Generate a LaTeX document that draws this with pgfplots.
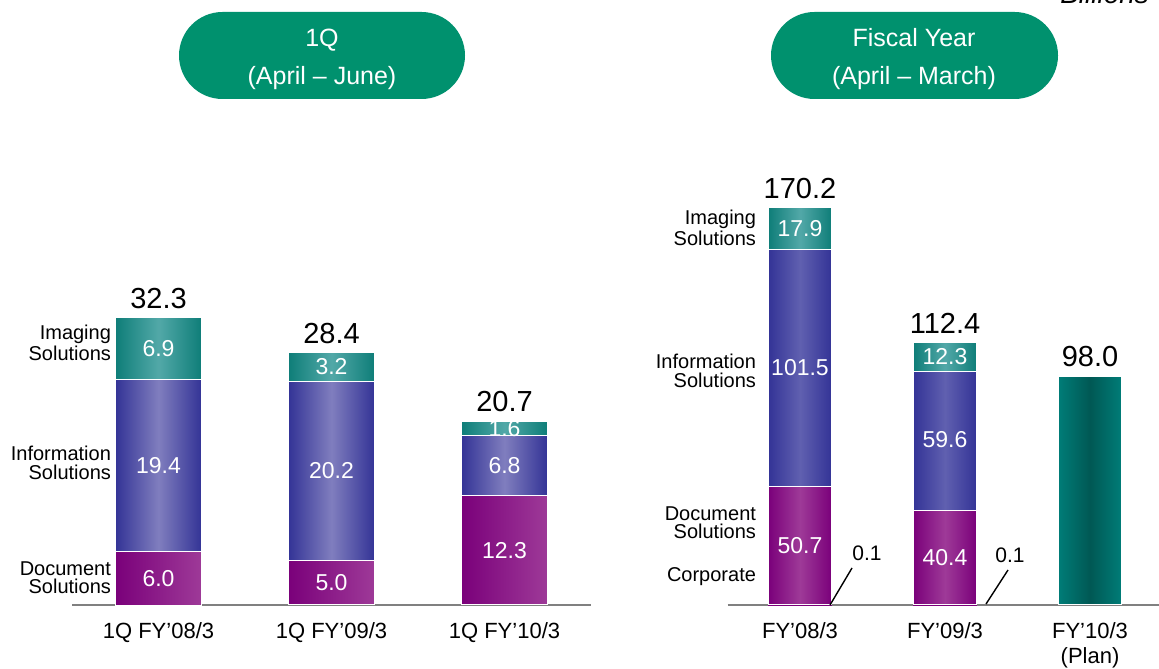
\documentclass[border=0pt]{standalone}
\usepackage{pgfplots}
\pgfplotsset{compat=1.18}
\usepackage{fontspec}
\setmainfont{Liberation Sans}

\definecolor{docdark}{RGB}{122,0,122}
\definecolor{doclight}{RGB}{158,58,152}
\definecolor{infoedge}{RGB}{51,51,150}
\definecolor{infomidq}{RGB}{128,126,190}
\definecolor{infomidy}{RGB}{96,96,176}
\definecolor{imgedge}{RGB}{14,125,120}
\definecolor{imgmid}{RGB}{82,168,168}
\definecolor{planedge}{RGB}{0,125,120}
\definecolor{planmid}{RGB}{0,88,84}
\definecolor{pill}{RGB}{0,145,110}

\tikzset{
  seg/.style={draw=white, line width=0.5pt},
  val/.style={white, font=\fontsize{11.5}{13}\selectfont},
  tot/.style={anchor=south, yshift=1pt, font=\fontsize{14.5}{16}\selectfont},
  % middle color has to come after left/right color
  tri/.style n args={2}{left color=#1, right color=#1, middle color=#2},
}
\pgfplotsset{
  panel/.style={
    scale only axis,
    anchor=south west,
    ymin=0,
    xmin=-0.5, xmax=2.5,
    axis x line=bottom,
    axis y line=none,
    axis line style={draw=black!50, line width=1.1pt, -},
    xtick={0,1,2},
    major tick length=0pt,
    xticklabel style={font=\fontsize{11}{12.5}\selectfont, align=center, yshift=-5pt},
    clip=false,
    ybar stacked,
  },
  % one axis per bar so that each bar gets its own shading
  qpanel/.style={panel, at={(36pt,31.5pt)}, width=259.5pt, height=150pt,
    ymax=33.76, bar width=0.5},
  ypanel/.style={panel, at={(363.75pt,31.5pt)}, width=217.5pt, height=210pt,
    ymax=180, bar width=0.44},
  over/.style={hide axis},
}

\begin{document}
\begin{tikzpicture}[x=0.5pt,y=0.5pt]
\clip (0,0) rectangle (1159,668);

% header pills
\fill[pill, rounded corners=21.75pt] (179,569) rectangle (465,656);
\fill[pill, rounded corners=21.75pt] (771,569) rectangle (1058,656);
\node[white, font=\fontsize{12.5}{14}\selectfont] at (322,628) {1Q};
\node[white, font=\fontsize{12.5}{14}\selectfont] at (322,590) {(April – June)};
\node[white, font=\fontsize{12.5}{14}\selectfont] at (914,630) {Fiscal Year};
\node[white, font=\fontsize{12.5}{14}\selectfont] at (914,590) {(April – March)};
\node[anchor=base east, font=\fontsize{14}{16}\selectfont\itshape] at (1156,664) {Billions};

% ---- 1Q panel ----
\begin{axis}[qpanel, xticklabels={1Q FY’08/3, 1Q FY’09/3, 1Q FY’10/3}]
\addplot[seg, left color=docdark, right color=doclight] coordinates {(0,6.0)};
\addplot[seg, tri={infoedge}{infomidq}] coordinates {(0,19.4)};
\addplot[seg, tri={imgedge}{imgmid}] coordinates {(0,6.9)};
\coordinate (a1) at (axis cs:0,3.0);
\coordinate (a2) at (axis cs:0,15.7);
\coordinate (a3) at (axis cs:0,28.85);
\coordinate (at) at (axis cs:0,32.3);
\end{axis}
\begin{axis}[qpanel, over]
\addplot[seg, left color=docdark, right color=doclight] coordinates {(1,5.0)};
\addplot[seg, tri={infoedge}{infomidq}] coordinates {(1,20.2)};
\addplot[seg, tri={imgedge}{imgmid}] coordinates {(1,3.2)};
\coordinate (b1) at (axis cs:1,2.5);
\coordinate (b2) at (axis cs:1,15.1);
\coordinate (b3) at (axis cs:1,26.8);
\coordinate (bt) at (axis cs:1,28.4);
\end{axis}
\begin{axis}[qpanel, over]
\addplot[seg, left color=docdark, right color=doclight] coordinates {(2,12.3)};
\addplot[seg, tri={infoedge}{infomidq}] coordinates {(2,6.8)};
\addplot[seg, tri={imgedge}{imgmid}] coordinates {(2,1.6)};
\coordinate (c1) at (axis cs:2,6.15);
\coordinate (c2) at (axis cs:2,15.7);
\coordinate (c3) at (axis cs:2,19.9);
\coordinate (ct) at (axis cs:2,20.7);
\end{axis}

% ---- Fiscal year panel ----
\begin{axis}[ypanel, xticklabels={FY’08/3, FY’09/3, {FY’10/3\\(Plan)}}]
\addplot[fill=docdark, draw=none] coordinates {(0,0.1)};
\addplot[seg, tri={docdark}{doclight}] coordinates {(0,50.7)};
\addplot[seg, tri={infoedge}{infomidy}] coordinates {(0,101.5)};
\addplot[seg, tri={imgedge}{imgmid}] coordinates {(0,17.9)};
\coordinate (d1) at (axis cs:0,25.45);
\coordinate (d2) at (axis cs:0,101.55);
\coordinate (d3) at (axis cs:0,161.25);
\coordinate (dt) at (axis cs:0,170.2);
\end{axis}
\begin{axis}[ypanel, over]
\addplot[fill=docdark, draw=none] coordinates {(1,0.1)};
\addplot[seg, tri={docdark}{doclight}] coordinates {(1,40.4)};
\addplot[seg, tri={infoedge}{infomidy}] coordinates {(1,59.6)};
\addplot[seg, tri={imgedge}{imgmid}] coordinates {(1,12.3)};
\coordinate (e1) at (axis cs:1,20.3);
\coordinate (e2) at (axis cs:1,70.8);
\coordinate (e3) at (axis cs:1,106.25);
\coordinate (et) at (axis cs:1,112.4);
\end{axis}
\begin{axis}[ypanel, over]
\addplot[seg, tri={planedge}{planmid}] coordinates {(2,98.0)};
\coordinate (ft) at (axis cs:2,98.0);
\end{axis}

% values inside the bars
\node[val] at (a1) {6.0};   \node[val] at (a2) {19.4};  \node[val] at (a3) {6.9};
\node[val] at (b1) {5.0};   \node[val] at (b2) {20.2};  \node[val] at (b3) {3.2};
\node[val] at (c1) {12.3};  \node[val] at (c2) {6.8};   \node[val] at (c3) {1.6};
\node[val] at (d1) {50.7};  \node[val] at (d2) {101.5}; \node[val] at (d3) {17.9};
\node[val] at (e1) {40.4};  \node[val] at (e2) {59.6};  \node[val] at (e3) {12.3};
% totals
\node[tot] at (at) {32.3};
\node[tot] at (bt) {28.4};
\node[tot] at (ct) {20.7};
\node[tot] at (dt) {170.2};
\node[tot] at (et) {112.4};
\node[tot] at (ft) {98.0};

% segment names
\begin{scope}[every node/.style={anchor=east, align=right, font=\fontsize{10}{9.2}\selectfont}]
\node at (118,325) {Imaging\\Solutions};
\node at (118,205) {Information\\Solutions};
\node at (118,90) {Document\\Solutions};
\node at (763,440) {Imaging\\Solutions};
\node at (763,297) {Information\\Solutions};
\node at (763,145) {Document\\Solutions};
\node at (763,91) {Corporate};
\end{scope}

% corporate callouts
\draw[line width=0.7pt] (830,63) -- (852,100);
\draw[line width=0.7pt] (986,64) -- (1008,98);
\node[font=\fontsize{10.5}{12}\selectfont] at (867,115) {0.1};
\node[font=\fontsize{10.5}{12}\selectfont] at (1010,113) {0.1};
\end{tikzpicture}
\end{document}
